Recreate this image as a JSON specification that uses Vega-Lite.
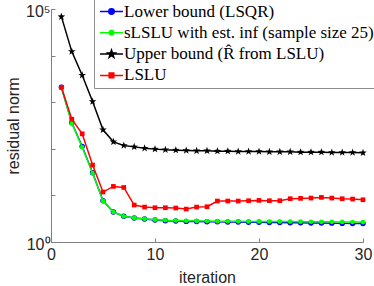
{
 "$schema": "https://vega.github.io/schema/vega-lite/v6.json",
 "width": 312, "height": 233,
 "autosize": {"type": "none"},
 "padding": {"left": 51, "top": 9, "right": 11, "bottom": 44},
 "background": "white",
 "config": {"view": {"stroke": null}},
 "datasets": {
  "d": [
   {"it":1,"s":"Lower bound (LSQR)","v":2094},{"it":2,"s":"Lower bound (LSQR)","v":360.6},{"it":3,"s":"Lower bound (LSQR)","v":112.2},{"it":4,"s":"Lower bound (LSQR)","v":30.6},{"it":5,"s":"Lower bound (LSQR)","v":7.69},{"it":6,"s":"Lower bound (LSQR)","v":4.40},{"it":7,"s":"Lower bound (LSQR)","v":3.55},{"it":8,"s":"Lower bound (LSQR)","v":3.27},{"it":9,"s":"Lower bound (LSQR)","v":3.11},{"it":10,"s":"Lower bound (LSQR)","v":2.96},{"it":11,"s":"Lower bound (LSQR)","v":2.86},{"it":12,"s":"Lower bound (LSQR)","v":2.82},{"it":13,"s":"Lower bound (LSQR)","v":2.77},{"it":14,"s":"Lower bound (LSQR)","v":2.75},{"it":15,"s":"Lower bound (LSQR)","v":2.73},{"it":16,"s":"Lower bound (LSQR)","v":2.71},{"it":17,"s":"Lower bound (LSQR)","v":2.69},{"it":18,"s":"Lower bound (LSQR)","v":2.68},{"it":19,"s":"Lower bound (LSQR)","v":2.66},{"it":20,"s":"Lower bound (LSQR)","v":2.64},{"it":21,"s":"Lower bound (LSQR)","v":2.63},{"it":22,"s":"Lower bound (LSQR)","v":2.61},{"it":23,"s":"Lower bound (LSQR)","v":2.60},{"it":24,"s":"Lower bound (LSQR)","v":2.58},{"it":25,"s":"Lower bound (LSQR)","v":2.57},{"it":26,"s":"Lower bound (LSQR)","v":2.55},{"it":27,"s":"Lower bound (LSQR)","v":2.54},{"it":28,"s":"Lower bound (LSQR)","v":2.51},{"it":29,"s":"Lower bound (LSQR)","v":2.49},{"it":30,"s":"Lower bound (LSQR)","v":2.48},
   {"it":1,"s":"sLSLU with est. inf (sample size 25)","v":2094},{"it":2,"s":"sLSLU with est. inf (sample size 25)","v":355},{"it":3,"s":"sLSLU with est. inf (sample size 25)","v":108},{"it":4,"s":"sLSLU with est. inf (sample size 25)","v":30},{"it":5,"s":"sLSLU with est. inf (sample size 25)","v":7.6},{"it":6,"s":"sLSLU with est. inf (sample size 25)","v":4.4},{"it":7,"s":"sLSLU with est. inf (sample size 25)","v":3.56},{"it":8,"s":"sLSLU with est. inf (sample size 25)","v":3.29},{"it":9,"s":"sLSLU with est. inf (sample size 25)","v":3.14},{"it":10,"s":"sLSLU with est. inf (sample size 25)","v":3.01},{"it":11,"s":"sLSLU with est. inf (sample size 25)","v":2.93},{"it":12,"s":"sLSLU with est. inf (sample size 25)","v":2.89},{"it":13,"s":"sLSLU with est. inf (sample size 25)","v":2.86},{"it":14,"s":"sLSLU with est. inf (sample size 25)","v":2.84},{"it":15,"s":"sLSLU with est. inf (sample size 25)","v":2.82},{"it":16,"s":"sLSLU with est. inf (sample size 25)","v":2.80},{"it":17,"s":"sLSLU with est. inf (sample size 25)","v":2.79},{"it":18,"s":"sLSLU with est. inf (sample size 25)","v":2.78},{"it":19,"s":"sLSLU with est. inf (sample size 25)","v":2.77},{"it":20,"s":"sLSLU with est. inf (sample size 25)","v":2.76},{"it":21,"s":"sLSLU with est. inf (sample size 25)","v":2.75},{"it":22,"s":"sLSLU with est. inf (sample size 25)","v":2.74},{"it":23,"s":"sLSLU with est. inf (sample size 25)","v":2.74},{"it":24,"s":"sLSLU with est. inf (sample size 25)","v":2.73},{"it":25,"s":"sLSLU with est. inf (sample size 25)","v":2.72},{"it":26,"s":"sLSLU with est. inf (sample size 25)","v":2.71},{"it":27,"s":"sLSLU with est. inf (sample size 25)","v":2.71},{"it":28,"s":"sLSLU with est. inf (sample size 25)","v":2.70},{"it":29,"s":"sLSLU with est. inf (sample size 25)","v":2.69},{"it":30,"s":"sLSLU with est. inf (sample size 25)","v":2.68},
   {"it":1,"s":"Upper bound (R̂ from LSLU)","v":68550},{"it":2,"s":"Upper bound (R̂ from LSLU)","v":12190},{"it":3,"s":"Upper bound (R̂ from LSLU)","v":3793},{"it":4,"s":"Upper bound (R̂ from LSLU)","v":1033},{"it":5,"s":"Upper bound (R̂ from LSLU)","v":255},{"it":6,"s":"Upper bound (R̂ from LSLU)","v":141},{"it":7,"s":"Upper bound (R̂ from LSLU)","v":118},{"it":8,"s":"Upper bound (R̂ from LSLU)","v":110},{"it":9,"s":"Upper bound (R̂ from LSLU)","v":103},{"it":10,"s":"Upper bound (R̂ from LSLU)","v":98.4},{"it":11,"s":"Upper bound (R̂ from LSLU)","v":95.3},{"it":12,"s":"Upper bound (R̂ from LSLU)","v":93.6},{"it":13,"s":"Upper bound (R̂ from LSLU)","v":92.1},{"it":14,"s":"Upper bound (R̂ from LSLU)","v":90.6},{"it":15,"s":"Upper bound (R̂ from LSLU)","v":90.6},{"it":16,"s":"Upper bound (R̂ from LSLU)","v":89.1},{"it":17,"s":"Upper bound (R̂ from LSLU)","v":89.1},{"it":18,"s":"Upper bound (R̂ from LSLU)","v":87.7},{"it":19,"s":"Upper bound (R̂ from LSLU)","v":87.7},{"it":20,"s":"Upper bound (R̂ from LSLU)","v":87.7},{"it":21,"s":"Upper bound (R̂ from LSLU)","v":86.2},{"it":22,"s":"Upper bound (R̂ from LSLU)","v":86.2},{"it":23,"s":"Upper bound (R̂ from LSLU)","v":86.2},{"it":24,"s":"Upper bound (R̂ from LSLU)","v":84.8},{"it":25,"s":"Upper bound (R̂ from LSLU)","v":84.8},{"it":26,"s":"Upper bound (R̂ from LSLU)","v":84.8},{"it":27,"s":"Upper bound (R̂ from LSLU)","v":83.5},{"it":28,"s":"Upper bound (R̂ from LSLU)","v":83.5},{"it":29,"s":"Upper bound (R̂ from LSLU)","v":83.5},{"it":30,"s":"Upper bound (R̂ from LSLU)","v":82.1},
   {"it":1,"s":"LSLU","v":2094},{"it":2,"s":"LSLU","v":432.5},{"it":3,"s":"LSLU","v":209.4},{"it":4,"s":"LSLU","v":44.7},{"it":5,"s":"LSLU","v":11.8},{"it":6,"s":"LSLU","v":15.6},{"it":7,"s":"LSLU","v":14.8},{"it":8,"s":"LSLU","v":6.21},{"it":9,"s":"LSLU","v":5.62},{"it":10,"s":"LSLU","v":5.44},{"it":11,"s":"LSLU","v":5.44},{"it":12,"s":"LSLU","v":5.36},{"it":13,"s":"LSLU","v":5.09},{"it":14,"s":"LSLU","v":5.62},{"it":15,"s":"LSLU","v":5.71},{"it":16,"s":"LSLU","v":7.57},{"it":17,"s":"LSLU","v":7.57},{"it":18,"s":"LSLU","v":7.57},{"it":19,"s":"LSLU","v":7.69},{"it":20,"s":"LSLU","v":7.81},{"it":21,"s":"LSLU","v":7.69},{"it":22,"s":"LSLU","v":7.69},{"it":23,"s":"LSLU","v":8.49},{"it":24,"s":"LSLU","v":8.63},{"it":25,"s":"LSLU","v":8.77},{"it":26,"s":"LSLU","v":9.06},{"it":27,"s":"LSLU","v":8.77},{"it":28,"s":"LSLU","v":8.49},{"it":29,"s":"LSLU","v":8.35},{"it":30,"s":"LSLU","v":8.07}
  ]
 },
 "data": {"name": "d"},
 "encoding": {
  "x": {"field": "it", "type": "quantitative", "scale": {"domain": [0, 30], "nice": false},
   "axis": {"values": [0, 10, 20, 30], "title": "iteration", "grid": false, "domainColor": "#808080", "tickColor": "#808080", "tickSize": -4,
    "labelFont": "Liberation Sans", "labelFontSize": 16, "labelColor": "#262626", "labelPadding": 8, "labelFlush": false, "labelOverlap": false,
    "titleFont": "Liberation Sans", "titleFontSize": 16, "titleFontWeight": "normal", "titleColor": "#262626", "titleY": 40, "titleBaseline": "alphabetic"}},
  "y": {"field": "v", "type": "quantitative", "scale": {"type": "log", "domain": [1, 100000], "nice": false},
   "axis": {"values": [1, 10, 100, 1000, 10000, 100000], "labelExpr": "datum.value === 1 ? '10⁰' : (datum.value === 100000 ? '10⁵' : '')",
    "title": "residual norm", "grid": false, "domainColor": "#808080", "tickColor": "#808080", "tickSize": -4,
    "labelFont": "Liberation Sans", "labelFontSize": 16, "labelColor": "#262626", "labelPadding": 5, "labelOverlap": false, "labelOffset": 2,
    "titleFont": "Liberation Sans", "titleFontSize": 16, "titleFontWeight": "normal", "titleColor": "#262626",
    "titleX": -33, "titleY": 116.5, "titleBaseline": "alphabetic", "titleAngle": -90, "titleAlign": "center"}},
  "color": {"field": "s", "type": "nominal",
   "scale": {"domain": ["Lower bound (LSQR)", "sLSLU with est. inf (sample size 25)", "Upper bound (R̂ from LSLU)", "LSLU"], "range": ["#0000ff", "#00ff00", "#000000", "#ff0000"]},
   "legend": {"orient": "none", "legendX": 43, "legendY": -10, "title": null, "padding": 4, "fillColor": "white", "strokeColor": "#8c8c8c",
    "symbolSize": 196, "symbolOffset": 5, "symbolStrokeWidth": 1.5, "labelOffset": 4, "labelFont": "Liberation Serif", "labelFontSize": 17, "labelColor": "black", "rowPadding": 3.3, "labelLimit": 0,
    "encode": {"symbols": {"update": {
      "shape": {"signal": "datum.value === 'LSLU' ? 'M-1.64,0H1.64M-0.33,-0.33H0.33V0.33H-0.33Z' : (datum.value === 'Lower bound (LSQR)' ? 'M-1.64,0H1.64M0.39,0A0.39,0.39 0 1,1 -0.39,0A0.39,0.39 0 1,1 0.39,0Z' : (datum.value === 'Upper bound (R̂ from LSLU)' ? 'M-1.64,0H1.64M0,-0.57L0.134,-0.185L0.542,-0.176L0.217,0.071L0.335,0.461L0,0.228L-0.335,0.461L-0.217,0.071L-0.542,-0.176L-0.134,-0.185Z' : 'M-1.64,0H1.64M0.33,0A0.33,0.33 0 1,1 -0.33,0A0.33,0.33 0 1,1 0.33,0Z'))"},
      "fill": {"scale": "color", "field": "value"},
      "fillOpacity": {"value": 1}
    }}}}}
 },
 "layer": [
  {"transform": [{"filter": "datum.s === 'Lower bound (LSQR)'"}], "mark": {"type": "line", "strokeWidth": 1.5, "point": {"shape": "circle", "size": 30, "filled": true}}},
  {"transform": [{"filter": "datum.s === 'sLSLU with est. inf (sample size 25)'"}], "mark": {"type": "line", "strokeWidth": 1.5, "point": {"shape": "circle", "size": 22, "filled": true}}},
  {"transform": [{"filter": "datum.s === 'Upper bound (R̂ from LSLU)'"}], "mark": {"type": "line", "strokeWidth": 1.5, "point": {"shape": "M0,-1L0.235,-0.324L0.951,-0.309L0.38,0.124L0.588,0.809L0,0.4L-0.588,0.809L-0.38,0.124L-0.951,-0.309L-0.235,-0.324Z", "size": 64, "filled": true}}},
  {"transform": [{"filter": "datum.s === 'LSLU'"}], "mark": {"type": "line", "strokeWidth": 1.5, "point": {"shape": "square", "size": 22, "filled": true}}}
 ]
}
